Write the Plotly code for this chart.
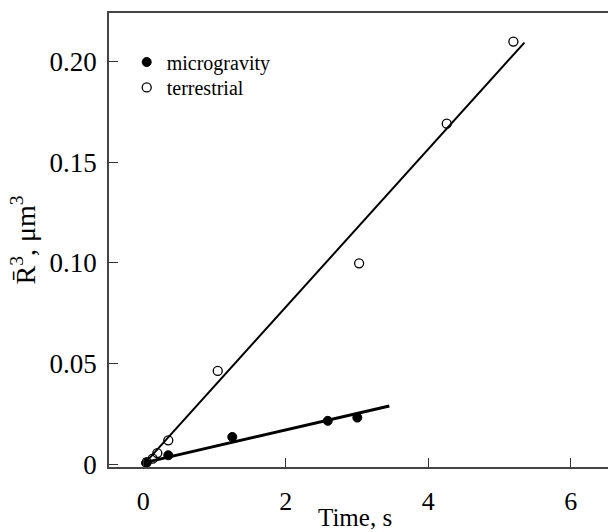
import plotly.graph_objects as go

# Data
terr_t = [0.05, 0.133, 0.198, 0.352, 1.046, 3.03, 4.26, 5.195]
terr_r3 = [0.001, 0.0027, 0.0055, 0.0118, 0.0463, 0.0998, 0.1692, 0.210]
micro_t = [0.04, 0.352, 1.25, 2.59, 3.005]
micro_r3 = [0.0005, 0.0044, 0.0135, 0.0215, 0.0231]

# fitted lines (end points)
terr_fit_t = [0.025, 5.35]
terr_fit_r3 = [0.0005, 0.2095]
micro_fit_t = [0.05, 3.454]
micro_fit_r3 = [0.001, 0.0289]

x_ticks = [0, 2, 4, 6]
y_ticks = [0, 0.05, 0.10, 0.15, 0.20]
y_tick_text = ["0", "0.05", "0.10", "0.15", "0.20"]
x_title = "Time, s"

FONT = "Liberation Serif, Times New Roman, serif"

fig = go.Figure()
fig.add_trace(go.Scatter(x=terr_fit_t, y=terr_fit_r3, mode="lines",
                         line=dict(color="black", width=2), showlegend=False))
fig.add_trace(go.Scatter(x=micro_fit_t, y=micro_fit_r3, mode="lines",
                         line=dict(color="black", width=3), showlegend=False))
fig.add_trace(go.Scatter(x=micro_t, y=micro_r3, mode="markers", name="microgravity",
                         legend="legend",
                         marker=dict(symbol="circle", size=9, color="black",
                                     line=dict(color="black", width=1))))
fig.add_trace(go.Scatter(x=terr_t, y=terr_r3, mode="markers", name="terrestrial",
                         legend="legend2",
                         marker=dict(symbol="circle-open", size=9, color="black",
                                     line=dict(color="black", width=1.3))))

legend_common = dict(xanchor="left", yanchor="top",
                     font=dict(family=FONT, size=20), bgcolor="rgba(0,0,0,0)",
                     itemwidth=30)

fig.update_layout(
    width=608, height=532,
    margin=dict(l=109, r=0, t=13, b=65),
    plot_bgcolor="white", paper_bgcolor="white",
    font=dict(family=FONT, color="black"),
    showlegend=True,
    legend=dict(x=0.0355, y=0.935, **legend_common),
    legend2=dict(x=0.0355, y=0.879, **legend_common),
    annotations=[dict(text=x_title, xref="paper", yref="paper", x=0.493, y=-0.1123,
                      xanchor="center", yanchor="middle", showarrow=False,
                      font=dict(family=FONT, size=25, color="black"))],
)
fig.update_xaxes(
    automargin=False,
    range=[-0.48, 6.523], tickvals=x_ticks, ticktext=[str(v) for v in x_ticks],
    ticks="inside", ticklen=9, tickwidth=1.2, tickcolor="#333",
    showline=True, linecolor="#444", linewidth=1.5, mirror=True,
    showgrid=False, zeroline=False,
    tickfont=dict(family=FONT, size=26), ticklabelstandoff=10,
)
fig.update_yaxes(
    automargin=False,
    range=[-0.00144, 0.2242], tickvals=y_ticks, ticktext=y_tick_text,
    ticks="inside", ticklen=9, tickwidth=1.2, tickcolor="#333",
    showline=True, linecolor="#444", linewidth=1.5, mirror=False,
    showgrid=False, zeroline=False,
    tickfont=dict(family=FONT, size=27), ticklabelstandoff=5,
    title=dict(text="R\u0304<sup>3</sup>, \u03bcm<sup>3</sup>",
               font=dict(family=FONT, size=28), standoff=6),
)

fig.write_html("out.html")
